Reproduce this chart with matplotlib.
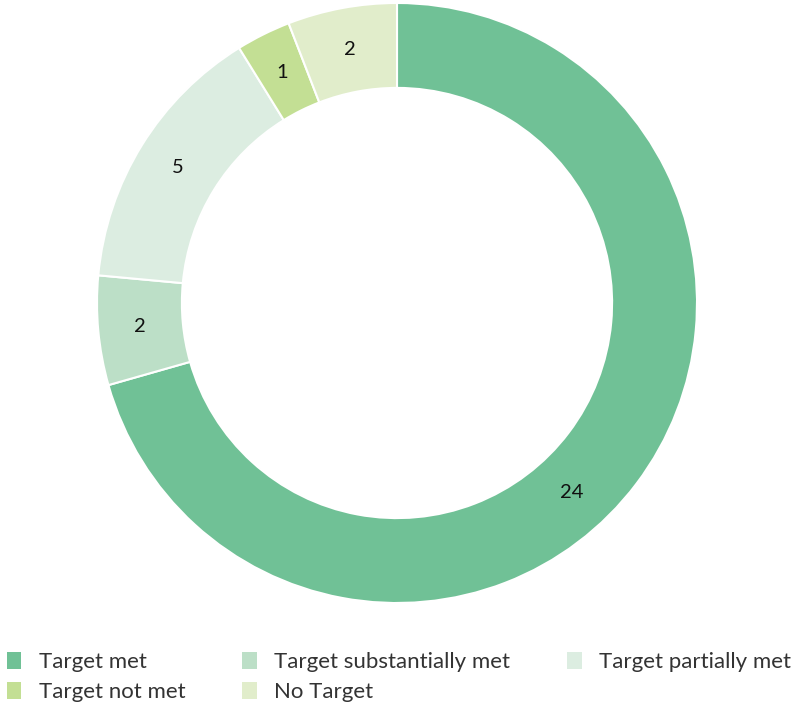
import numpy as np
import matplotlib.pyplot as plt
from matplotlib.patches import Patch

plt.rcParams['font.family'] = ['Lato', 'DejaVu Sans']

labels = ["Target met", "Target substantially met", "Target partially met",
          "Target not met", "No Target"]
values = [24, 2, 5, 1, 2]
colors = ["#70c196", "#bcdfc7", "#dcede1", "#c3df94", "#e1edcb"]

fig = plt.figure(figsize=(7.94, 7.09), dpi=100)
ax = fig.add_axes([97/794, 1 - 603/709, 600/794, 600/709])

wedges, texts = ax.pie(values, colors=colors, startangle=90, counterclock=False,
                       radius=1, labels=[str(v) for v in values], labeldistance=0.86,
                       wedgeprops=dict(width=0.283, edgecolor="white", linewidth=1.5),
                       textprops=dict(fontsize=14.5, color="#111111", ha="center", va="center"))

# the big wedge's label sits a bit past its middle in the original
w = wedges[0]
ang = np.deg2rad(w.theta2 - 0.54 * (w.theta2 - w.theta1))
texts[0].set_position((0.86 * np.cos(ang), 0.86 * np.sin(ang)))

ax.set_xlim(-1, 1)
ax.set_ylim(-1, 1)
ax.set_aspect("equal")

# legend fills column by column, so reorder for the row layout in the picture
order = [0, 3, 1, 4, 2]
handles = [Patch(facecolor=colors[i], label=labels[i]) for i in order]
fig.legend(handles=handles, loc="lower left", bbox_to_anchor=(0.0, 0.0),
           ncol=3, frameon=False, fontsize=16, handlelength=0.65, handleheight=0.8,
           handletextpad=0.8, columnspacing=2.55, labelspacing=0.45,
           labelcolor="#333333", borderaxespad=0.0, borderpad=0.3)

fig.savefig("out.png", dpi=100)
